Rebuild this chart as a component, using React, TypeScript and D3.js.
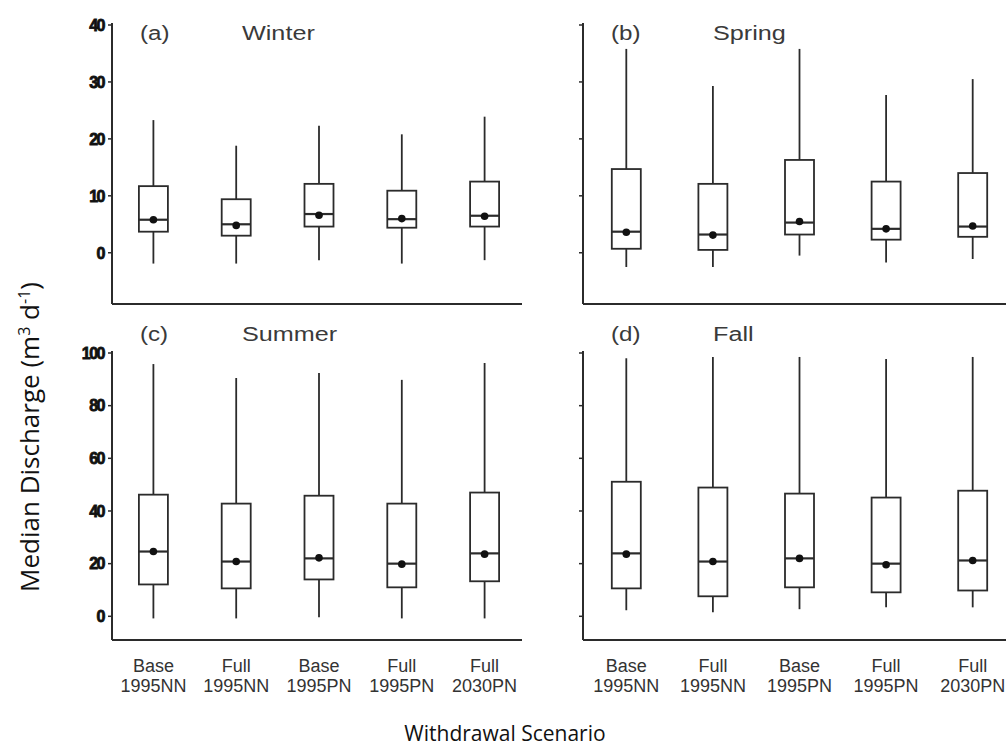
import React from 'react';
import { scaleBand, scaleLinear } from 'd3';

const scenarios = ['Base 1995NN', 'Full 1995NN', 'Base 1995PN', 'Full 1995PN', 'Full 2030PN'];
const topTicks = [0, 10, 20, 30, 40];
const bottomTicks = [0, 20, 40, 60, 80, 100];

// values: [low whisker, q1, median, q3, high whisker, mean]
const winter = [
  [-1.9, 3.7, 5.8, 11.7, 23.3, 5.8],
  [-1.9, 3.0, 5.0, 9.4, 18.8, 4.8],
  [-1.3, 4.6, 6.8, 12.1, 22.3, 6.6],
  [-1.9, 4.4, 5.9, 10.9, 20.8, 6.0],
  [-1.3, 4.6, 6.5, 12.5, 23.9, 6.4],
];
const spring = [
  [-2.5, 0.7, 3.7, 14.7, 35.8, 3.6],
  [-2.5, 0.5, 3.2, 12.1, 29.3, 3.1],
  [-0.5, 3.2, 5.3, 16.3, 35.8, 5.5],
  [-1.7, 2.3, 4.2, 12.5, 27.7, 4.2],
  [-1.1, 2.8, 4.6, 14.0, 30.5, 4.7],
];
const summer = [
  [-0.8, 12.1, 24.6, 46.2, 95.8, 24.6],
  [-0.8, 10.6, 20.8, 42.8, 90.5, 20.8],
  [-0.4, 14.0, 22.0, 45.8, 92.4, 22.2],
  [-0.8, 11.0, 20.0, 42.8, 89.8, 19.8],
  [-0.8, 13.3, 23.9, 47.0, 96.2, 23.6],
];
const fall = [
  [2.3, 10.6, 23.9, 51.1, 98.0, 23.6],
  [1.5, 7.6, 20.8, 48.9, 98.5, 20.8],
  [2.7, 11.0, 22.0, 46.6, 98.5, 22.0],
  [3.4, 9.1, 20.0, 45.1, 97.7, 19.6],
  [3.4, 9.8, 21.2, 47.7, 98.5, 21.2],
];

const W = 1006;
const H = 746;
const ink = '#2b2b2b';
const arial = "'Liberation Sans', Arial, sans-serif";

const yTop = scaleLinear().domain([-9, 40]).range([304, 25]);
const yBottom = scaleLinear().domain([-9, 100]).range([640, 353]);
const xLeft = scaleBand().domain(scenarios).range([112, 526]).padding(0);
const xRight = scaleBand().domain(scenarios).range([583, 1016]).padding(0);

const panels = [
  { tag: '(a)', name: 'Winter', data: winter, x: xLeft, y: yTop, ticks: topTicks, labels: true, axisEnd: 522, tagY: 40, bottom: false },
  { tag: '(b)', name: 'Spring', data: spring, x: xRight, y: yTop, ticks: topTicks, labels: false, axisEnd: 1006, tagY: 40, bottom: false },
  { tag: '(c)', name: 'Summer', data: summer, x: xLeft, y: yBottom, ticks: bottomTicks, labels: true, axisEnd: 522, tagY: 341, bottom: true },
  { tag: '(d)', name: 'Fall', data: fall, x: xRight, y: yBottom, ticks: bottomTicks, labels: false, axisEnd: 1006, tagY: 341, bottom: true },
];

function Panel({ p }: { p: (typeof panels)[number] }) {
  const x0 = p.x.range()[0];
  const [yb, yt] = p.y.range();
  const bw = 29;
  return (
    <g>
      <line x1={x0} x2={x0} y1={yt - 2} y2={yb} stroke={ink} strokeWidth={2} />
      <line x1={x0} x2={p.axisEnd} y1={yb} y2={yb} stroke={ink} strokeWidth={2} />
      {p.ticks.map((t) => (
        <g key={t}>
          <line x1={x0 - 4} x2={x0} y1={p.y(t)} y2={p.y(t)} stroke={ink} strokeWidth={1.5} />
          {p.labels && (
            <text
              x={x0 - 8}
              y={p.y(t)}
              dy="0.36em"
              textAnchor="end"
              fontFamily={arial}
              fontWeight="bold"
              fontSize={16}
              letterSpacing={-1.5}
              stroke="#111"
              strokeWidth={0.8}
              fill="#111"
            >
              {t}
            </text>
          )}
        </g>
      ))}
      <text transform={`translate(${x0 + 28},${p.tagY}) scale(1.15,1)`} fontFamily={arial} fontSize={21} fill="#3a3a3a">
        {p.tag}
      </text>
      <text transform={`translate(${x0 + 130},${p.tagY}) scale(1.2,1)`} fontFamily={arial} fontSize={21} fill="#3a3a3a">
        {p.name}
      </text>
      {p.data.map((d, i) => {
        const cx = (p.x(scenarios[i]) ?? 0) + p.x.bandwidth() / 2;
        const [lo, q1, med, q3, hi, mean] = d;
        return (
          <g key={i}>
            <line x1={cx} x2={cx} y1={p.y(hi)} y2={p.y(q3)} stroke={ink} strokeWidth={1.8} />
            <line x1={cx} x2={cx} y1={p.y(q1)} y2={p.y(lo)} stroke={ink} strokeWidth={1.8} />
            <rect
              x={cx - bw / 2}
              y={p.y(q3)}
              width={bw}
              height={p.y(q1) - p.y(q3)}
              fill="white"
              stroke={ink}
              strokeWidth={1.8}
            />
            <line x1={cx - bw / 2} x2={cx + bw / 2} y1={p.y(med)} y2={p.y(med)} stroke={ink} strokeWidth={2.2} />
            <circle cx={cx} cy={p.y(mean)} r={3.8} fill="#111" />
          </g>
        );
      })}
      {p.bottom &&
        scenarios.map((s) => {
          const cx = (p.x(s) ?? 0) + p.x.bandwidth() / 2;
          const [a, b] = s.split(' ');
          return (
            <text key={s} textAnchor="middle" fontFamily={arial} fontSize={18} fill="#333">
              <tspan x={cx} y={672}>{a}</tspan>
              <tspan x={cx} y={692}>{b}</tspan>
            </text>
          );
        })}
    </g>
  );
}

export default function App() {
  return (
    <svg width={W} height={H} style={{ position: 'absolute', left: 0, top: 0, background: 'white' }}>
      {panels.map((p) => (
        <Panel key={p.tag} p={p} />
      ))}
      <text
        transform="translate(39,437) rotate(-90)"
        textAnchor="middle"
        fontFamily="'Open Sans', 'Noto Sans', sans-serif"
        fontSize={26}
        fill="#111"
      >
        Median Discharge (m<tspan dy={-9} fontSize={16}>3</tspan>
        <tspan dy={9}> d</tspan>
        <tspan dy={-9} fontSize={16}>-1</tspan>
        <tspan dy={9}>)</tspan>
      </text>
      <text
        x={505}
        y={741}
        textAnchor="middle"
        fontFamily="'Open Sans', 'Noto Sans', sans-serif"
        fontSize={21}
        fill="#111"
      >
        Withdrawal Scenario
      </text>
    </svg>
  );
}
